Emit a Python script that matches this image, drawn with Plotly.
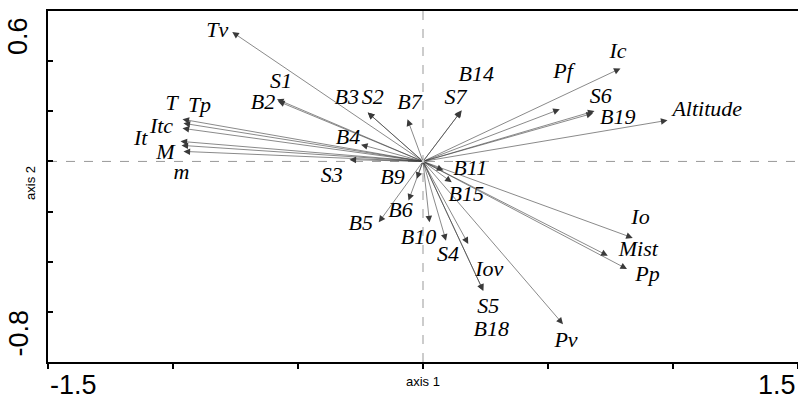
import plotly.graph_objects as go

# variables (arrow tips on axis 1 / axis 2)
noms = ["Tv", "S1", "B2", "T", "Tp", "Itc", "It", "M", "m",
        "B3", "S2", "B7", "B4", "S3", "B9", "B6", "B5",
        "B14", "S7", "Pf", "Ic", "S6", "B19", "Altitude",
        "B11", "B15", "B10", "S4", "Iov", "S5", "B18", "Pv",
        "Io", "Mist", "Pp"]
axe1 = [-0.763, -0.58, -0.584, -0.962, -0.958, -0.962, -0.970, -0.966, -0.958,
        -0.221, -0.221, -0.062, -0.248, -0.294, -0.025, -0.058, -0.177,
        0.152, 0.155, 0.547, 0.790, 0.686, 0.680, 0.978,
        0.082, 0.115, 0.026, 0.092, 0.181, 0.241, 0.241, 0.560,
        0.839, 0.739, 0.816]
axe2 = [0.516, 0.24, 0.248, 0.168, 0.152, 0.132, 0.080, 0.064, 0.040,
        0.195, 0.195, 0.168, 0.067, 0.007, -0.069, -0.156, -0.243,
        0.200, 0.204, 0.208, 0.371, 0.201, 0.192, 0.164,
        -0.036, -0.083, -0.243, -0.316, -0.329, -0.516, -0.516, -0.649,
        -0.305, -0.376, -0.429]

# label positions
lab1 = [-0.823, -0.568, -0.64, -1.006, -0.894, -1.046, -1.129, -1.03, -0.966,
        -0.305, -0.201, -0.054, -0.30, -0.365, -0.122, -0.09, -0.249,
        0.213, 0.13, 0.56, 0.78, 0.711, 0.779, 1.137,
        0.189, 0.173, -0.018, 0.10, 0.265, 0.261, 0.273, 0.572,
        0.87, 0.861, 0.898]
lab2 = [0.52, 0.316, 0.232, 0.228, 0.22, 0.136, 0.088, 0.032, -0.048,
        0.252, 0.252, 0.232, 0.092, -0.06, -0.068, -0.2, -0.252,
        0.344, 0.252, 0.356, 0.436, 0.256, 0.172, 0.204,
        -0.034, -0.134, -0.308, -0.376, -0.436, -0.584, -0.676, -0.72,
        -0.228, -0.356, -0.456]

x_ticks = [-1.5, -1.0, -0.5, 0.0, 0.5, 1.0, 1.5]
y_ticks = [-0.8, -0.6, -0.4, -0.2, 0.0, 0.2, 0.4, 0.6]

fig = go.Figure()

fig.add_trace(go.Scatter(
    x=lab1, y=lab2, text=noms, mode="text",
    textfont=dict(family="Liberation Serif", size=22, style="italic", color="black"),
    hoverinfo="skip", showlegend=False,
))

annotations = []
for nom, x, y in zip(noms, axe1, axe2):
    annotations.append(dict(
        x=x, y=y, ax=0, ay=0, xref="x", yref="y", axref="x", ayref="y",
        text="", showarrow=True, arrowhead=2, arrowsize=2.2, arrowwidth=0.6,
        arrowcolor="#3a3a3a",
    ))

big = dict(family="Liberation Sans", size=27, color="black")
annotations += [
    dict(x=-1.5, y=0, xref="x", yref="paper", text="-1.5", showarrow=False,
         xanchor="left", yanchor="top", yshift=-6, font=big),
    dict(x=1, y=0, xref="paper", yref="paper", text="1.5", showarrow=False,
         xanchor="right", yanchor="top", yshift=-6, font=big),
    dict(x=0, y=0.6, xref="paper", yref="y", text="0.6", showarrow=False,
         textangle=-90, xanchor="right", yanchor="top", xshift=-13, yshift=-4, font=big),
    dict(x=0, y=-0.8, xref="paper", yref="y", text="-0.8", showarrow=False,
         textangle=-90, xanchor="right", yanchor="bottom", xshift=-13, yshift=3, font=big),
    dict(x=0, y=0, xref="x", yref="paper", text="axis 1", showarrow=False,
         yanchor="top", yshift=-10, font=dict(family="Liberation Sans", size=13, color="black")),
    dict(x=0, y=0, xref="paper", yref="y", text="axis 2", showarrow=False,
         textangle=-90, xanchor="right", xshift=-8, yshift=-22,
         font=dict(family="Liberation Sans", size=13, color="black")),
]

fig.update_layout(
    width=798, height=401,
    margin=dict(l=48, r=0, t=11, b=39),
    plot_bgcolor="white", paper_bgcolor="white",
    annotations=annotations,
    shapes=[
        dict(type="line", xref="x", yref="y", x0=-1.5, x1=1.5, y0=0, y1=0,
             line=dict(color="#999999", width=1, dash="dash"), layer="below"),
        dict(type="line", xref="x", yref="y", x0=0, x1=0, y0=-0.8, y1=0.6,
             line=dict(color="#999999", width=1, dash="dash"), layer="below"),
    ],
    xaxis=dict(range=[-1.5, 1.5], showgrid=False, zeroline=False,
               showline=True, linecolor="black", linewidth=2, mirror=True,
               ticks="outside", ticklen=5, tickwidth=2, tickcolor="black",
               tickvals=x_ticks, ticktext=[""] * len(x_ticks)),
    yaxis=dict(range=[-0.8, 0.6], showgrid=False, zeroline=False,
               showline=True, linecolor="black", linewidth=2,
               ticks="inside", ticklen=5, tickwidth=2, tickcolor="black",
               tickvals=y_ticks, ticktext=[""] * len(y_ticks)),
)

# page body has a default 8px margin; drop it so the figure fills the window
fig.write_html("out.html", config={"displayModeBar": False},
               post_script="document.body.style.margin='0';")
